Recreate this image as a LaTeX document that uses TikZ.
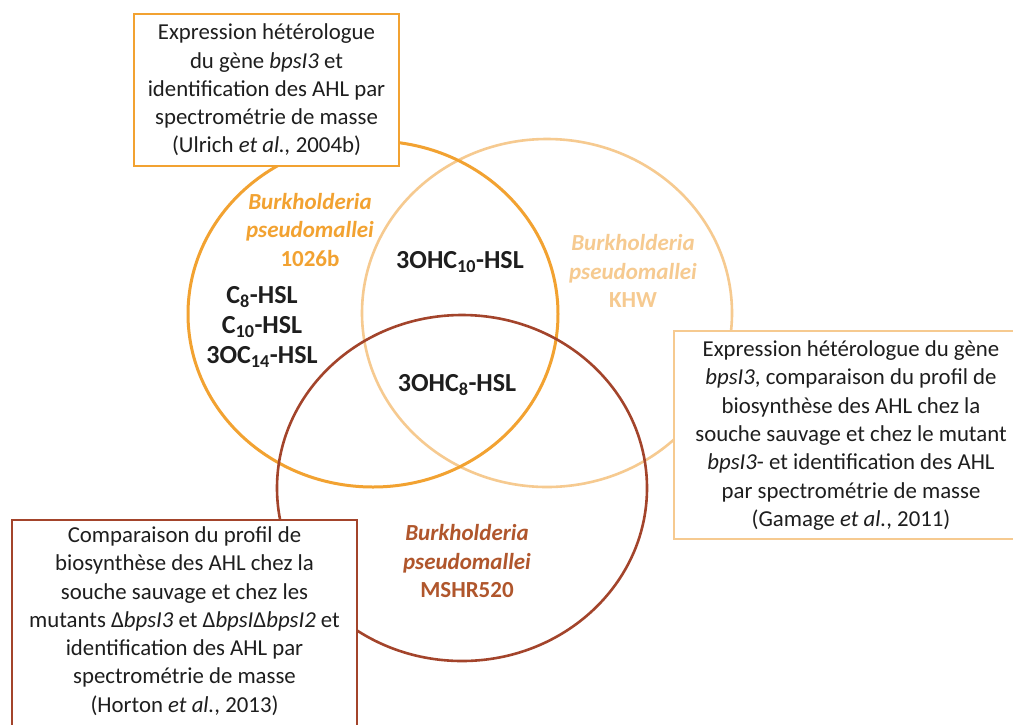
\documentclass[tikz,border=0pt]{standalone}
\usepackage{fontspec}
\setmainfont{Carlito}

\definecolor{strainA}{HTML}{F2A231}
\definecolor{strainB}{HTML}{F6CA90}
\definecolor{strainC}{HTML}{A3442B}
\definecolor{labC}{HTML}{B0562C}
\definecolor{txtgray}{HTML}{1E1E1E}

\begin{document}
\begin{tikzpicture}[x=1pt,y=-1pt,
  every node/.style={align=center,text=txtgray,inner sep=0pt},
  refbox/.style={draw,fill=white,line width=2.4pt},
  ref/.style={font=\fontsize{22.8}{28.3}\selectfont},
  strain/.style={font=\fontsize{23}{28.5}\selectfont\bfseries},
  hsl/.style={font=\fontsize{26}{30}\selectfont\bfseries}]
\clip (0,0) rectangle (1013,724);
\fill[white] (0,0) rectangle (1013,724);
% the three strains
\draw[strainB,line width=2.6pt] (547,313) ellipse [x radius=185pt, y radius=174pt];
\draw[strainA,line width=3pt] (373,314) ellipse [x radius=185pt, y radius=173pt];
\draw[strainC,line width=2.6pt] (462,488) ellipse [x radius=185pt, y radius=173pt];
% references
\node[refbox,draw=strainA,minimum width=265pt,minimum height=152pt] (refA) at (266.5,90) {};
\node[ref] (refAtxt) at (266.5,90) {Expression hétérologue\\du gène \textit{bpsI3} et\\identification des AHL par\\spectrométrie de masse\\(Ulrich \textit{et al.,} 2004b)};
\node[refbox,draw=strainB,minimum width=354pt,minimum height=208pt] (refB) at (851,435) {};
\node[ref] (refBtxt) at (851,435.5) {Expression hétérologue du gène\\\textit{bpsI3}, comparaison du profil de\\biosynthèse des AHL chez la\\souche sauvage et chez le mutant\\\textit{bpsI3}- et identification des AHL\\par spectrométrie de masse\\(Gamage \textit{et al.}, 2011)};
\node[refbox,draw=strainC,minimum width=345pt,minimum height=212pt] (refC) at (184.5,626) {};
\node[ref] (refCtxt) at (184.5,621) {Comparaison du profil de\\biosynthèse des AHL chez la\\souche sauvage et chez les\\mutants Δ\textit{bpsI3} et Δ\textit{bpsI}Δ\textit{bpsI2} et\\identification des AHL par\\spectrométrie de masse\\(Horton \textit{et al.}, 2013)};
% strain names
\node[strain,text=strainA] (s1026b) at (310,230) {\textit{Burkholderia}\\\textit{pseudomallei}\\1026b};
\node[strain,text=strainB] (sKHW) at (633,271) {\textit{Burkholderia}\\\textit{pseudomallei}\\KHW};
\node[strain,text=labC] (sMSHR) at (467,561) {\textit{Burkholderia}\\\textit{pseudomallei}\\MSHR520};
% AHL
\node[hsl] (ahlA) at (262,327) {C\textsubscript{8}-HSL\\C\textsubscript{10}-HSL\\3OC\textsubscript{14}-HSL};
\node[hsl] (ahlAB) at (460,262) {3OHC\textsubscript{10}-HSL};
\node[hsl] (ahlABC) at (457,385) {3OHC\textsubscript{8}-HSL};
\end{tikzpicture}
\end{document}
